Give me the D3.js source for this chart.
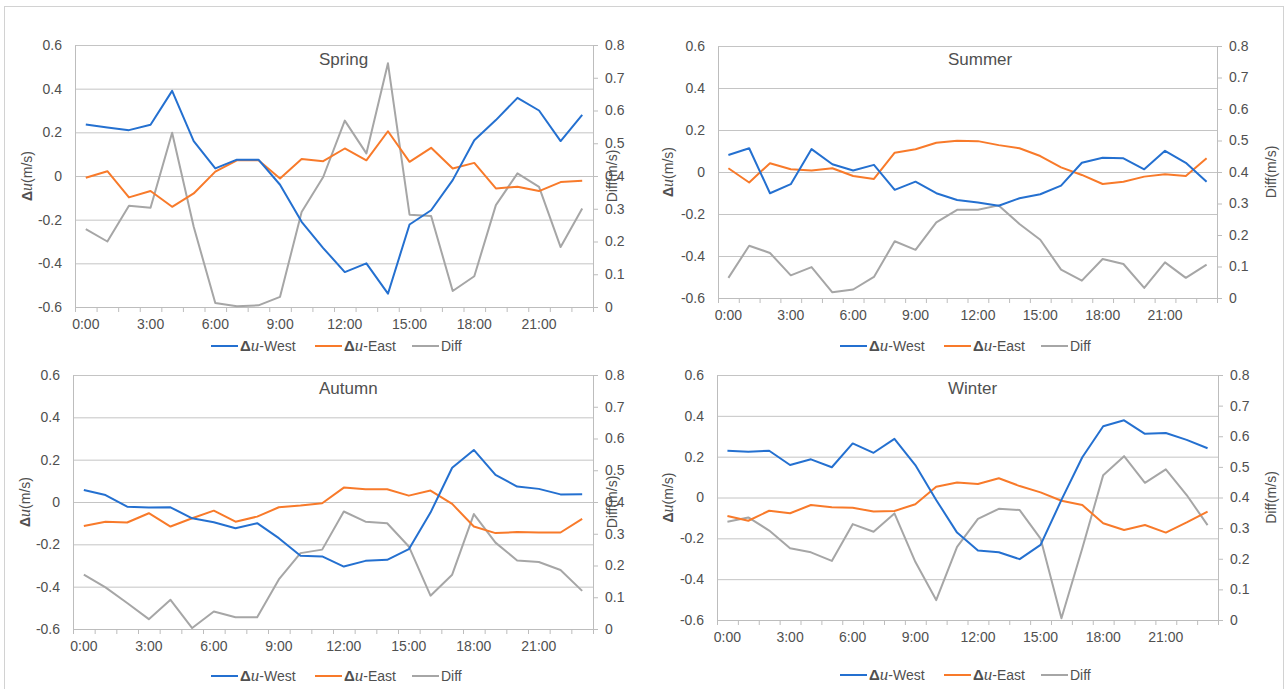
<!DOCTYPE html>
<html>
<head>
<meta charset="utf-8">
<script src="https://cdn.jsdelivr.net/npm/d3@7/dist/d3.min.js"></script>
<style>
  html, body { margin: 0; padding: 0; background: #fff; }
  svg { display: block; }
  text { font-family: "Liberation Sans", Arial, sans-serif; fill: #505050; }
</style>
</head>
<body>
<svg id="chart" width="1287" height="689"></svg>
<script>
// ---------- data ----------
const hourLabels = ["0:00","1:00","2:00","3:00","4:00","5:00","6:00","7:00","8:00","9:00","10:00","11:00",
  "12:00","13:00","14:00","15:00","16:00","17:00","18:00","19:00","20:00","21:00","22:00","23:00"];
const shownHourLabels = ["0:00","3:00","6:00","9:00","12:00","15:00","18:00","21:00"];
const leftTicks = [-0.6, -0.4, -0.2, 0, 0.2, 0.4, 0.6];
const leftTickLabels = ["-0.6","-0.4","-0.2","0","0.2","0.4","0.6"];
const rightTicks = [0, 0.1, 0.2, 0.3, 0.4, 0.5, 0.6, 0.7, 0.8];
const rightTickLabels = ["0","0.1","0.2","0.3","0.4","0.5","0.6","0.7","0.8"];
const seriesNames = ["West", "East", "Diff"];

const springWest = [0.236, 0.222, 0.210, 0.235, 0.390, 0.160, 0.035, 0.075, 0.075, -0.040, -0.210, -0.330, -0.440, -0.400, -0.539, -0.222, -0.157, -0.019, 0.164, 0.256, 0.358, 0.300, 0.160, 0.280];
const springEast = [-0.008, 0.022, -0.098, -0.069, -0.141, -0.080, 0.020, 0.072, 0.072, -0.011, 0.078, 0.068, 0.126, 0.072, 0.205, 0.065, 0.129, 0.034, 0.060, -0.057, -0.049, -0.069, -0.028, -0.022];
const springDiff = [0.238, 0.200, 0.309, 0.303, 0.532, 0.245, 0.012, 0.002, 0.005, 0.031, 0.290, 0.397, 0.569, 0.469, 0.744, 0.282, 0.278, 0.049, 0.094, 0.311, 0.408, 0.367, 0.183, 0.301];

const summerWest = [0.081, 0.113, -0.101, -0.058, 0.109, 0.037, 0.007, 0.034, -0.085, -0.046, -0.101, -0.133, -0.145, -0.161, -0.125, -0.106, -0.065, 0.044, 0.068, 0.065, 0.013, 0.101, 0.044, -0.046];
const summerEast = [0.018, -0.050, 0.042, 0.013, 0.007, 0.018, -0.019, -0.033, 0.092, 0.108, 0.139, 0.149, 0.147, 0.128, 0.113, 0.076, 0.022, -0.014, -0.057, -0.046, -0.022, -0.011, -0.019, 0.065];
const summerDiff = [0.064, 0.166, 0.143, 0.072, 0.098, 0.018, 0.027, 0.067, 0.180, 0.153, 0.240, 0.280, 0.280, 0.294, 0.235, 0.185, 0.090, 0.055, 0.124, 0.108, 0.032, 0.113, 0.064, 0.106];

const autumnWest = [0.057, 0.033, -0.022, -0.026, -0.025, -0.077, -0.096, -0.124, -0.100, -0.171, -0.254, -0.257, -0.305, -0.278, -0.273, -0.223, -0.050, 0.162, 0.246, 0.128, 0.073, 0.062, 0.036, 0.037];
const autumnEast = [-0.113, -0.093, -0.097, -0.053, -0.116, -0.077, -0.041, -0.093, -0.069, -0.025, -0.017, -0.006, 0.068, 0.060, 0.060, 0.030, 0.054, -0.009, -0.116, -0.147, -0.142, -0.144, -0.144, -0.080];
const autumnDiff = [0.171, 0.131, 0.082, 0.031, 0.092, 0.003, 0.055, 0.037, 0.037, 0.156, 0.239, 0.250, 0.370, 0.338, 0.333, 0.260, 0.105, 0.171, 0.362, 0.272, 0.216, 0.211, 0.186, 0.120];

const winterWest = [0.229, 0.224, 0.229, 0.159, 0.187, 0.148, 0.265, 0.219, 0.287, 0.159, -0.012, -0.172, -0.260, -0.268, -0.302, -0.232, -0.012, 0.197, 0.349, 0.378, 0.312, 0.316, 0.282, 0.241];
const winterEast = [-0.091, -0.114, -0.065, -0.077, -0.037, -0.048, -0.050, -0.069, -0.066, -0.033, 0.053, 0.073, 0.066, 0.094, 0.056, 0.025, -0.016, -0.037, -0.126, -0.159, -0.135, -0.172, -0.122, -0.069];
const winterDiff = [0.321, 0.335, 0.292, 0.234, 0.221, 0.193, 0.313, 0.288, 0.348, 0.190, 0.065, 0.239, 0.330, 0.363, 0.359, 0.266, 0.006, 0.234, 0.473, 0.535, 0.448, 0.492, 0.408, 0.310];

// ---------- styling / layout ----------
const colors = { West: "#2470d0", East: "#f87a2a", Diff: "#a6a6a6" };
const gridColor = "#c4c4c4";
const axisColor = "#bdbdbd";

const panels = [
  { title: "Spring", west: springWest, east: springEast, diff: springDiff,
    l: 75, r: 593, t: 45, b: 307, titleX: 319, titleY: 65, yTitleX: 27, y2TitleX: 612, legendX: 211, legendY: 346 },
  { title: "Summer", west: summerWest, east: summerEast, diff: summerDiff,
    l: 718, r: 1217, t: 46, b: 298, titleX: 948, titleY: 65, yTitleX: 668, y2TitleX: 1271, legendX: 840, legendY: 346 },
  { title: "Autumn", west: autumnWest, east: autumnEast, diff: autumnDiff,
    l: 73, r: 593, t: 375, b: 629, titleX: 319, titleY: 394, yTitleX: 25, y2TitleX: 612, legendX: 211, legendY: 676 },
  { title: "Winter", west: winterWest, east: winterEast, diff: winterDiff,
    l: 717, r: 1218, t: 375, b: 620, titleX: 948, titleY: 394, yTitleX: 668, y2TitleX: 1271, legendX: 840, legendY: 675 }
];

const svg = d3.select("#chart");

// outer frame
svg.append("rect").attr("x", 4.5).attr("y", 6.5).attr("width", 1279).attr("height", 700)
  .attr("fill", "none").attr("stroke", "#d2d2d2").attr("stroke-width", 1);

function deltaU(sel, size) {
  sel.append("tspan").text("Δ").style("font-weight", "bold").style("font-size", size + "px");
  sel.append("tspan").text("u").style("font-family", "'Liberation Serif', 'DejaVu Serif', serif")
    .style("font-style", "italic").style("font-size", (size + 2) + "px");
}

panels.forEach(p => {
  const w = p.r - p.l, h = p.b - p.t;
  const g = svg.append("g").attr("transform", `translate(${p.l},${p.t})`);

  const x = d3.scaleBand().domain(hourLabels).range([0, w]).paddingInner(0).paddingOuter(0);
  const xTicks = d3.scaleLinear().domain([0, hourLabels.length]).range([0, w]);
  const yL = d3.scaleLinear().domain([-0.6, 0.6]).range([h, 0]);
  const yR = d3.scaleLinear().domain([0, 0.8]).range([h, 0]);

  // gridlines
  g.append("g").call(d3.axisLeft(yL).tickValues(leftTicks).tickSize(-w).tickFormat(""))
    .call(a => a.select(".domain").remove())
    .call(a => a.selectAll("line").attr("stroke", gridColor).attr("stroke-width", 1));

  // left axis
  g.append("g").call(d3.axisLeft(yL).tickValues(leftTicks).tickSize(0).tickPadding(13)
      .tickFormat((d, i) => leftTickLabels[i]))
    .call(a => a.select(".domain").attr("stroke", axisColor))
    .call(a => a.selectAll("text").style("font-size", "14px").attr("fill", "#505050")
      .style("font-family", "'Liberation Sans', Arial, sans-serif"));

  // right axis
  g.append("g").attr("transform", `translate(${w},0)`)
    .call(d3.axisRight(yR).tickValues(rightTicks).tickSize(5).tickSizeOuter(0).tickPadding(7)
      .tickFormat((d, i) => rightTickLabels[i]))
    .call(a => a.select(".domain").attr("stroke", axisColor))
    .call(a => a.selectAll("line").attr("stroke", axisColor))
    .call(a => a.selectAll("text").style("font-size", "14px").attr("fill", "#505050")
      .style("font-family", "'Liberation Sans', Arial, sans-serif"));

  // bottom axis: boundary tick marks
  g.append("g").attr("transform", `translate(0,${h})`)
    .call(d3.axisBottom(xTicks).ticks(hourLabels.length).tickSize(5).tickSizeOuter(0).tickFormat(""))
    .call(a => a.select(".domain").attr("stroke", axisColor))
    .call(a => a.selectAll("line").attr("stroke", axisColor));

  // bottom axis: labels
  g.append("g").attr("transform", `translate(0,${h})`)
    .call(d3.axisBottom(x).tickValues(shownHourLabels).tickSize(0).tickPadding(12))
    .call(a => a.select(".domain").remove())
    .call(a => a.selectAll("text").style("font-size", "14px").attr("fill", "#505050")
      .style("font-family", "'Liberation Sans', Arial, sans-serif"));

  // lines
  const cx = (d, i) => x(hourLabels[i]) + x.bandwidth() / 2;
  const lineL = d3.line().x(cx).y(d => yL(d));
  const lineR = d3.line().x(cx).y(d => yR(d));
  g.append("path").datum(p.diff).attr("d", lineR).attr("fill", "none")
    .attr("stroke", colors.Diff).attr("stroke-width", 2).attr("stroke-linejoin", "round");
  g.append("path").datum(p.east).attr("d", lineL).attr("fill", "none")
    .attr("stroke", colors.East).attr("stroke-width", 2).attr("stroke-linejoin", "round");
  g.append("path").datum(p.west).attr("d", lineL).attr("fill", "none")
    .attr("stroke", colors.West).attr("stroke-width", 2).attr("stroke-linejoin", "round");

  // title
  svg.append("text").attr("x", p.titleX).attr("y", p.titleY).text(p.title)
    .style("font-size", "17px").attr("fill", "#303030");

  // left axis title
  const yt = svg.append("text")
    .attr("transform", `translate(${p.yTitleX},${p.t + h / 2}) rotate(-90)`)
    .attr("text-anchor", "middle").attr("dy", "0.35em").style("font-size", "14px").attr("fill", "#303030");
  deltaU(yt, 14);
  yt.append("tspan").text("(m/s)");

  // right axis title
  svg.append("text")
    .attr("transform", `translate(${p.y2TitleX},${p.t + h / 2}) rotate(-90)`)
    .attr("text-anchor", "middle").attr("dy", "0.35em").style("font-size", "14px").attr("fill", "#404040")
    .text("Diff(m/s)");

  // legend
  const lg = svg.append("g").attr("transform", `translate(${p.legendX},${p.legendY})`);
  const offsets = [0, 104, 201];
  seriesNames.forEach((s, i) => {
    const it = lg.append("g").attr("transform", `translate(${offsets[i]},0)`);
    it.append("line").attr("x1", 0).attr("x2", 27).attr("y1", 0).attr("y2", 0)
      .attr("stroke", colors[s]).attr("stroke-width", 2);
    const t = it.append("text").attr("x", 29).attr("dy", "0.35em").style("font-size", "14px").attr("fill", "#404040");
    if (s === "Diff") {
      t.text("Diff");
    } else {
      deltaU(t, 15);
      t.append("tspan").text("-" + s);
    }
  });
});
</script>
</body>
</html>
